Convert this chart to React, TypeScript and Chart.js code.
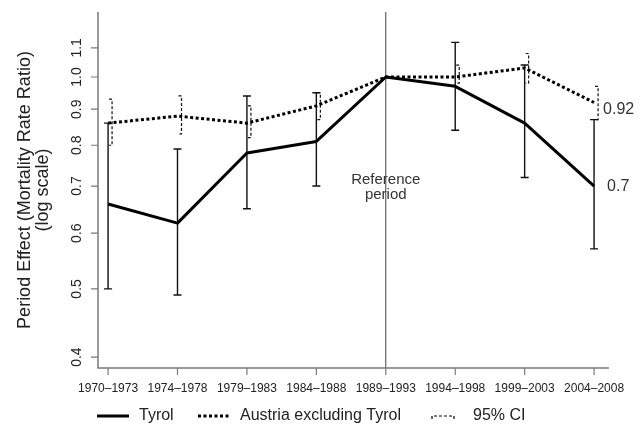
import React, { useEffect, useRef } from "react";
import { Chart, registerables } from "chart.js";

Chart.register(...registerables);

const categories = ["1970–1973", "1974–1978", "1979–1983", "1984–1988", "1989–1993", "1994–1998", "1999–2003", "2004–2008"];
const tyrol = [0.66, 0.62, 0.78, 0.81, 1.0, 0.97, 0.86, 0.70];
const tyrolLower = [0.50, 0.49, 0.65, 0.70, null, 0.84, 0.72, 0.57];
const tyrolUpper = [0.86, 0.79, 0.94, 0.95, null, 1.12, 1.04, 0.87];
const austria = [0.86, 0.88, 0.86, 0.91, 1.0, 1.0, 1.03, 0.92];
const austriaLower = [0.80, 0.83, 0.82, 0.87, null, 0.98, 0.98, 0.87];
const austriaUpper = [0.93, 0.94, 0.91, 0.95, null, 1.04, 1.08, 0.97];
const yTicks = [0.4, 0.5, 0.6, 0.7, 0.8, 0.9, 1.0, 1.1];
const yTickLabels = ["0.4", "0.5", "0.6", "0.7", "0.8", "0.9", "1.0", "1.1"];
const referenceIndex = 4;
const endLabels = ["0.92", "0.7"];

const FONT = '"Liberation Sans", Arial, Helvetica, sans-serif';
const AXIS = "#7a7a7a";
const TEXT = "#222";

const overlayPlugin = {
  id: "overlay",
  beforeDatasetsDraw(chart: any) {
    const { ctx, chartArea } = chart;
    const xs = chart.scales.x;
    const ys = chart.scales.y;
    ctx.save();
    // reference line
    const rx = xs.getPixelForValue(referenceIndex);
    ctx.strokeStyle = "#444";
    ctx.lineWidth = 1;
    ctx.beginPath();
    ctx.moveTo(rx, chartArea.top);
    ctx.lineTo(rx, chartArea.bottom);
    ctx.stroke();
    // Tyrol error bars
    ctx.strokeStyle = "#111";
    ctx.lineWidth = 1.4;
    for (let i = 0; i < categories.length; i++) {
      const lo = tyrolLower[i];
      const hi = tyrolUpper[i];
      if (lo == null || hi == null) continue;
      const x = xs.getPixelForValue(i);
      const yl = ys.getPixelForValue(lo);
      const yh = ys.getPixelForValue(hi);
      ctx.beginPath();
      ctx.moveTo(x, yl);
      ctx.lineTo(x, yh);
      ctx.moveTo(x - 4, yl);
      ctx.lineTo(x + 4, yl);
      ctx.moveTo(x - 4, yh);
      ctx.lineTo(x + 4, yh);
      ctx.stroke();
    }
    // Austria CI brackets
    ctx.setLineDash([3, 2]);
    ctx.lineWidth = 1.2;
    for (let i = 0; i < categories.length; i++) {
      const lo = austriaLower[i];
      const hi = austriaUpper[i];
      if (lo == null || hi == null) continue;
      const x = xs.getPixelForValue(i) + 4;
      const yl = ys.getPixelForValue(lo);
      const yh = ys.getPixelForValue(hi);
      ctx.beginPath();
      ctx.moveTo(x - 3, yh);
      ctx.lineTo(x, yh);
      ctx.lineTo(x, yl);
      ctx.lineTo(x - 3, yl);
      ctx.stroke();
    }
    ctx.restore();
  },
  afterDraw(chart: any) {
    const { ctx, chartArea } = chart;
    const xs = chart.scales.x;
    const ys = chart.scales.y;
    ctx.save();
    // axes
    ctx.strokeStyle = AXIS;
    ctx.lineWidth = 1.5;
    ctx.beginPath();
    ctx.moveTo(chartArea.left, chartArea.top);
    ctx.lineTo(chartArea.left, chartArea.bottom);
    ctx.lineTo(chartArea.right, chartArea.bottom);
    ctx.stroke();
    ctx.lineWidth = 1.2;
    ctx.beginPath();
    yTicks.forEach((v) => {
      const y = ys.getPixelForValue(v);
      ctx.moveTo(chartArea.left - 7, y);
      ctx.lineTo(chartArea.left, y);
    });
    categories.forEach((_, i) => {
      const x = xs.getPixelForValue(i);
      ctx.moveTo(x, chartArea.bottom);
      ctx.lineTo(x, chartArea.bottom + 7);
    });
    ctx.stroke();
    // y tick labels (rotated)
    ctx.fillStyle = TEXT;
    ctx.font = `14px ${FONT}`;
    ctx.textAlign = "center";
    ctx.textBaseline = "middle";
    yTicks.forEach((v, k) => {
      const y = ys.getPixelForValue(v);
      ctx.save();
      ctx.translate(chartArea.left - 21, y);
      ctx.rotate(-Math.PI / 2);
      ctx.fillText(yTickLabels[k], 0, 0);
      ctx.restore();
    });
    // x tick labels
    ctx.font = `12px ${FONT}`;
    categories.forEach((c, i) => {
      ctx.fillText(c, xs.getPixelForValue(i), chartArea.bottom + 21);
    });
    // y title
    ctx.font = `18px ${FONT}`;
    const cy = (chartArea.top + chartArea.bottom) / 2;
    ctx.save();
    ctx.translate(25, cy);
    ctx.rotate(-Math.PI / 2);
    ctx.fillText("Period Effect (Mortality Rate Ratio)", 0, 0);
    ctx.fillText("(log scale)", 0, 18);
    ctx.restore();
    // reference period text
    ctx.font = `15px ${FONT}`;
    ctx.fillStyle = "#333";
    const rx = xs.getPixelForValue(referenceIndex);
    ctx.fillText("Reference", rx, 180);
    ctx.fillText("period", rx, 195);
    // end labels
    ctx.textAlign = "left";
    ctx.font = `16px ${FONT}`;
    const lx = xs.getPixelForValue(categories.length - 1);
    ctx.fillText(endLabels[0], lx + 9, ys.getPixelForValue(austria[austria.length - 1]) + 7);
    ctx.fillText(endLabels[1], lx + 13, ys.getPixelForValue(tyrol[tyrol.length - 1]) + 1);
    // legend
    const ly = 416;
    ctx.strokeStyle = "#000";
    ctx.lineWidth = 3;
    ctx.beginPath();
    ctx.moveTo(97, ly);
    ctx.lineTo(129, ly);
    ctx.stroke();
    ctx.setLineDash([3, 2.5]);
    ctx.beginPath();
    ctx.moveTo(198, ly);
    ctx.lineTo(230, ly);
    ctx.stroke();
    ctx.lineWidth = 1.2;
    ctx.setLineDash([3, 2]);
    ctx.beginPath();
    ctx.moveTo(432, ly + 3);
    ctx.lineTo(432, ly);
    ctx.lineTo(454, ly);
    ctx.lineTo(454, ly + 3);
    ctx.stroke();
    ctx.setLineDash([]);
    ctx.fillStyle = TEXT;
    ctx.font = `16px ${FONT}`;
    ctx.fillText("Tyrol", 139, ly);
    ctx.fillText("Austria excluding Tyrol", 240, ly);
    ctx.fillText("95% CI", 473, ly);
    ctx.restore();
  },
};

export default function App() {
  const ref = useRef<HTMLCanvasElement | null>(null);
  useEffect(() => {
    if (!ref.current) return;
    const chart = new Chart(ref.current, {
      type: "line",
      data: {
        datasets: [
          {
            label: "Tyrol",
            data: tyrol.map((v, i) => ({ x: i, y: v })),
            borderColor: "#000",
            borderWidth: 3,
            pointRadius: 0,
            tension: 0,
            borderJoinStyle: "round",
          },
          {
            label: "Austria excluding Tyrol",
            data: austria.map((v, i) => ({ x: i, y: v })),
            borderColor: "#000",
            borderWidth: 3,
            borderDash: [3, 2.5],
            pointRadius: 0,
            tension: 0,
          },
        ],
      },
      options: {
        animation: false,
        responsive: false,
        layout: { padding: { left: 98, top: 12, right: 35, bottom: 59 } },
        scales: {
          x: { type: "linear", min: -0.145, max: 7.215, display: false },
          y: { type: "logarithmic", min: 0.386, max: 1.237, display: false },
        },
        plugins: { legend: { display: false }, tooltip: { enabled: false } },
      },
      plugins: [overlayPlugin],
    } as any);
    return () => chart.destroy();
  }, []);
  return (
    <div style={{ position: "absolute", left: 0, top: 0, width: 644, height: 427, background: "#fff" }}>
      <canvas ref={ref} width={644} height={427} style={{ display: "block" }} />
    </div>
  );
}
